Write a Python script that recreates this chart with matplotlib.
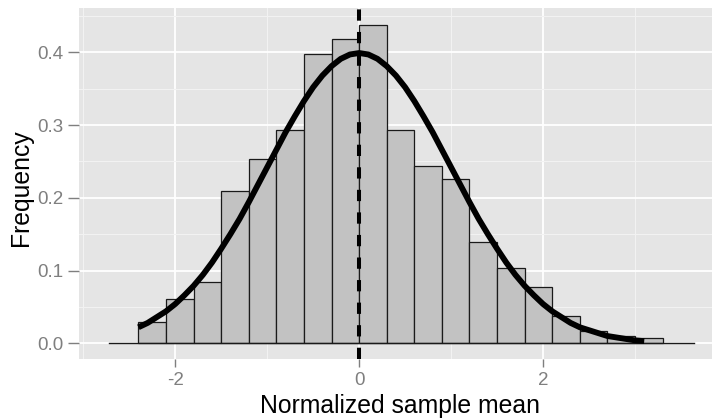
"""
Histogram of normalized sample means with the normal curve on top (ggplot-like look)
"""
import matplotlib
matplotlib.use('Agg')
import matplotlib.pyplot as plt
from matplotlib.ticker import MultipleLocator

plt.rcParams['font.family'] = ['Liberation Sans', 'DejaVu Sans']

# bin edges (left side) and heights, binwidth 0.3
bin_left = [-2.4, -2.1, -1.8, -1.5, -1.2, -0.9, -0.6, -0.3, 0.0, 0.3,
            0.6, 0.9, 1.2, 1.5, 1.8, 2.1, 2.4, 2.7, 3.0]
bin_height = [0.029, 0.061, 0.084, 0.210, 0.254, 0.293, 0.398, 0.418, 0.438, 0.293,
              0.244, 0.226, 0.139, 0.104, 0.077, 0.038, 0.017, 0.010, 0.007]
bin_width = 0.3

# density curve, read point by point
curve_x = [-2.4, -2.3, -2.2, -2.1, -2.0, -1.9, -1.8, -1.7, -1.6, -1.5,
           -1.4, -1.3, -1.2, -1.1, -1.0, -0.9, -0.8, -0.7, -0.6, -0.5,
           -0.4, -0.3, -0.2, -0.1, 0.0, 0.1, 0.2, 0.3, 0.4, 0.5,
           0.6, 0.7, 0.8, 0.9, 1.0, 1.1, 1.2, 1.3, 1.4, 1.5,
           1.6, 1.7, 1.8, 1.9, 2.0, 2.1, 2.2, 2.3, 2.4, 2.5,
           2.6, 2.7, 2.8, 2.9, 3.0, 3.1]
curve_y = [0.022, 0.028, 0.036, 0.044, 0.054, 0.066, 0.079, 0.094, 0.111, 0.130,
           0.150, 0.171, 0.194, 0.218, 0.242, 0.266, 0.290, 0.312, 0.333, 0.352,
           0.368, 0.381, 0.391, 0.397, 0.399, 0.397, 0.391, 0.381, 0.368, 0.352,
           0.333, 0.312, 0.290, 0.266, 0.242, 0.218, 0.194, 0.171, 0.150, 0.130,
           0.111, 0.094, 0.079, 0.066, 0.054, 0.044, 0.036, 0.028, 0.022, 0.018,
           0.014, 0.010, 0.008, 0.006, 0.004, 0.003]

# baseline drawn under the bars, and the reference line
baseline_x = [-2.72, 3.64]
mean_line = 0.0

xticks = [-2, 0, 2]
yticks = [0.0, 0.1, 0.2, 0.3, 0.4]

fig = plt.figure(figsize=(7.12, 4.2), dpi=100)
fig.patch.set_facecolor('white')
# panel runs past the right border, like the cropped original
ax = fig.add_axes([79.3 / 712, 1 - 358.5 / 420, 644 / 712, 350 / 420])
ax.set_facecolor('#E5E5E5')
ax.set_xlim(-3.043, 3.96)
ax.set_ylim(-0.0209, 0.4602)

# grid
ax.xaxis.set_minor_locator(MultipleLocator(1))
ax.yaxis.set_minor_locator(MultipleLocator(0.05))
ax.grid(which='minor', color='#F2F2F2', linewidth=0.8)
ax.grid(which='major', color='white', linewidth=1.3)
ax.set_axisbelow(True)

ax.bar(bin_left, bin_height, width=bin_width, align='edge',
       color='#C2C2C2', edgecolor='#1a1a1a', linewidth=0.9, zorder=2)
ax.plot(baseline_x, [0, 0], color='#1a1a1a', linewidth=1.0, zorder=2.5)
ax.plot(curve_x, curve_y, color='black', linewidth=4.2,
        solid_capstyle='butt', zorder=3)
ax.axvline(mean_line, color='black', linewidth=2.9, linestyle=(0, (2.8, 2.8)), zorder=4)

for s in ax.spines.values():
    s.set_visible(False)

ax.set_xticks(xticks)
ax.set_xticklabels(['-2', '0', '2'])
ax.set_yticks(yticks)
ax.set_yticklabels(['0.0', '0.1', '0.2', '0.3', '0.4'])
ax.tick_params(which='major', width=1.0, color='#7F7F7F',
               labelcolor='#7F7F7F', labelsize=13.5)
ax.tick_params(axis='x', which='major', length=6.0, pad=4.0)
ax.tick_params(axis='y', which='major', length=8.0, pad=3.6)
ax.tick_params(which='minor', length=0)

ax.set_xlabel('Normalized sample mean', fontsize=17.8, color='black')
ax.set_ylabel('Frequency', fontsize=17.8, color='black')
ax.xaxis.set_label_coords((400.5 - 79.3) / 644, -(406 - 358.5) / 350)
ax.yaxis.set_label_coords(-(79.3 - 20.7) / 644, (358.5 - 188) / 350)
ax.xaxis.label.set_va('center')
ax.yaxis.label.set_va('center')

plt.savefig('out.png', dpi=100)
plt.close()
